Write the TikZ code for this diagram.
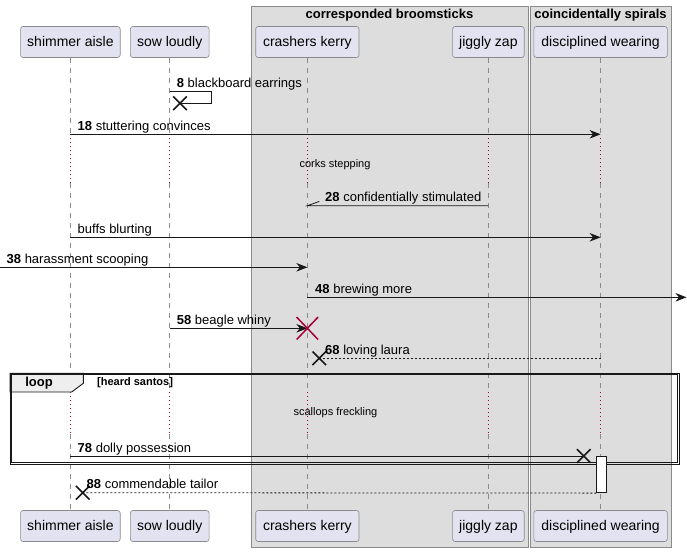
\documentclass[tikz,border=0pt]{standalone}
\usepackage{fontspec}
\setmainfont{Liberation Sans}
\usetikzlibrary{arrows.meta,shapes.misc}
\definecolor{partfill}{HTML}{E2E2F0}
\definecolor{partdraw}{HTML}{8A8A8A}
\definecolor{boxfill}{HTML}{DDDDDD}
\definecolor{boxdraw}{HTML}{8A8A8A}
\definecolor{delayred}{HTML}{A80036}
\definecolor{lineblk}{HTML}{181818}
\definecolor{tabfill}{HTML}{EEEEEE}
\tikzset{
 part/.style={draw=partdraw, fill=partfill, rounded corners=2.5pt, line width=0.6pt, minimum height=31pt, inner sep=0pt, text height=9.5pt, text depth=1.5pt, font=\fontsize{14}{16}\selectfont, text=black},
 grp/.style={draw=boxdraw, fill=boxfill, line width=0.7pt},
 life/.style={draw=partdraw, line width=0.6pt, dash pattern=on 5pt off 5pt},
 delayline/.style={draw=delayred, line width=0.8pt, dash pattern=on 1pt off 3pt},
 msg/.style={draw=lineblk, line width=0.8pt},
 arr/.style={msg, -{Stealth[length=11pt,width=8.5pt,inset=3.5pt]}},
 rmsg/.style={msg, dash pattern=on 2pt off 2pt},
 lbl/.style={font=\fontsize{13}{15}\selectfont, anchor=base west, inner sep=0pt, text=black},
 smalltxt/.style={font=\fontsize{11}{13}\selectfont, inner sep=0pt, text=black},
 xmark/.style={cross out, draw=lineblk, line width=1.6pt, minimum size=12pt, inner sep=0pt},
 redx/.style={cross out, draw=delayred, line width=1.5pt, minimum size=20pt, inner sep=0pt},
 gtitle/.style={font=\bfseries\fontsize{13}{15}\selectfont, inner sep=0pt, text=black},
 frameline/.style={draw=lineblk, line width=0.9pt},
}
\begin{document}
\begin{tikzpicture}[x=1pt,y=-1pt]
\useasboundingbox (0,0) rectangle (687,552);
% group boxes
\draw[grp] (251,6) rectangle (528.3,547.7);
\draw[grp] (530.3,6) rectangle (671,547.7);
\node[gtitle] (g1) at (389.5,15) {corresponded broomsticks};
\node[gtitle] (g2) at (600.5,15) {coincidentally spirals};
% participants top
\node[part, minimum width=99.6pt] (sa) at (70.4,42) {shimmer aisle};
\node[part, minimum width=78.7pt] (sl) at (169.7,42) {sow loudly};
\node[part, minimum width=103.3pt] (ck) at (307.35,42) {crashers kerry};
\node[part, minimum width=71.6pt] (jz) at (488.4,42) {jiggly zap};
\node[part, minimum width=133.4pt] (dw) at (600.6,42) {disciplined wearing};
% participants bottom
\node[part, minimum width=99.6pt] (sab) at (70.4,526) {shimmer aisle};
\node[part, minimum width=78.7pt] (slb) at (169.7,526) {sow loudly};
\node[part, minimum width=103.3pt] (ckb) at (307.35,526) {crashers kerry};
\node[part, minimum width=71.6pt] (jzb) at (488.4,526) {jiggly zap};
\node[part, minimum width=133.4pt] (dwb) at (600.6,526) {disciplined wearing};
% lifelines
\coordinate (da) at (0,138);
\coordinate (db) at (0,183);
\coordinate (dc) at (0,392);
\coordinate (dd) at (0,434);
\foreach \p in {sa,sl,ck,jz,dw}{
  \draw[life] (\p.south) -- (\p |- da);
  \draw[delayline] (\p |- da) -- (\p |- db);
  \draw[life] (\p |- db) -- (\p |- dc);
  \draw[delayline] (\p |- dc) -- (\p |- dd);
  \draw[life] (\p |- dd) -- (\p |- 0,510.5);
}
\node[smalltxt] (d1t) at (335,164.5) {corks stepping};
\node[smalltxt] (d2t) at (335.5,413) {scallops freckling};
% loop frame
\draw[frameline, fill=tabfill] (10,373.3) -- (83.3,373.3) -- (83.3,383.3) -- (71.7,392) -- (10,392) -- cycle;
\draw[frameline] (10,373.3) rectangle (679,464.3);
\draw[frameline] (11.6,374.9) rectangle (677.4,462.7);
\node[gtitle] (looplbl) at (39,383.5) {loop};
\node[gtitle, font=\bfseries\fontsize{11}{13}\selectfont, anchor=west] (cond) at (97,383) {[heard santos]};
% message 8 (self, destroyed)
\node[xmark] (x8) at (180,103.3) {};
\draw[msg] (sl |- 0,91.7) -- (211.7,91.7) -- (211.7,103.3) -- (x8.center);
\node[lbl] (t8) at (176.7,87.8) {\textbf{8} blackboard earrings};
% message 18
\draw[arr] (sa |- 0,134.3) -- (dw |- 0,134.3);
\node[lbl] (t18) at (77.5,130.6) {\textbf{18} stuttering convinces};
% message 28
\coordinate (e28) at (ck |- 0,205.7);
\draw[msg] (jz |- 0,205.7) -- (e28) -- ++(12,-4.3);
\node[lbl] (t28) at (325,201.8) {\textbf{28} confidentially stimulated};
% buffs blurting
\draw[arr] (sa |- 0,237.3) -- (dw |- 0,237.3);
\node[lbl] (tbb) at (77.5,233.4) {buffs blurting};
% message 38
\coordinate (lft) at (0,267.3);
\draw[arr] (lft) -- (ck |- lft);
\node[lbl] (t38) at (6.5,263.4) {\textbf{38} harassment scooping};
% message 48
\coordinate (rgt) at (686.5,297.3);
\draw[arr] (ck |- rgt) -- (rgt);
\node[lbl] (t48) at (315,293.4) {\textbf{48} brewing more};
% message 58
\draw[arr] (sl |- 0,328.3) -- (ck |- 0,328.3);
\node[redx, minimum height=21pt] (x58) at (ck |- 0,328.3) {};
\node[lbl] (t58) at (176.7,324.3) {\textbf{58} beagle whiny};
% message 68
\node[xmark] (x68) at (319.3,358.3) {};
\draw[rmsg] (dw |- 0,358.3) -- (x68.center);
\node[lbl] (t68) at (325,354.4) {\textbf{68} loving laura};
% message 78
\node[xmark] (x78) at (583.7,456) {};
\draw[msg] (sa |- 0,456) -- (x78.center);
\node[lbl] (t78) at (77.5,452.2) {\textbf{78} dolly possession};
% activation
\node[draw=lineblk, fill=white, line width=0.8pt, minimum width=9.3pt, minimum height=36pt, inner sep=0pt] (act) at (601.35,474.7) {};
% message 88
\node[xmark] (x88) at (82.7,492.7) {};
\draw[rmsg] (act.south west) -- (x88.center);
\node[lbl] (t88) at (86.5,488.8) {\textbf{88} commendable tailor};
\end{tikzpicture}
\end{document}
